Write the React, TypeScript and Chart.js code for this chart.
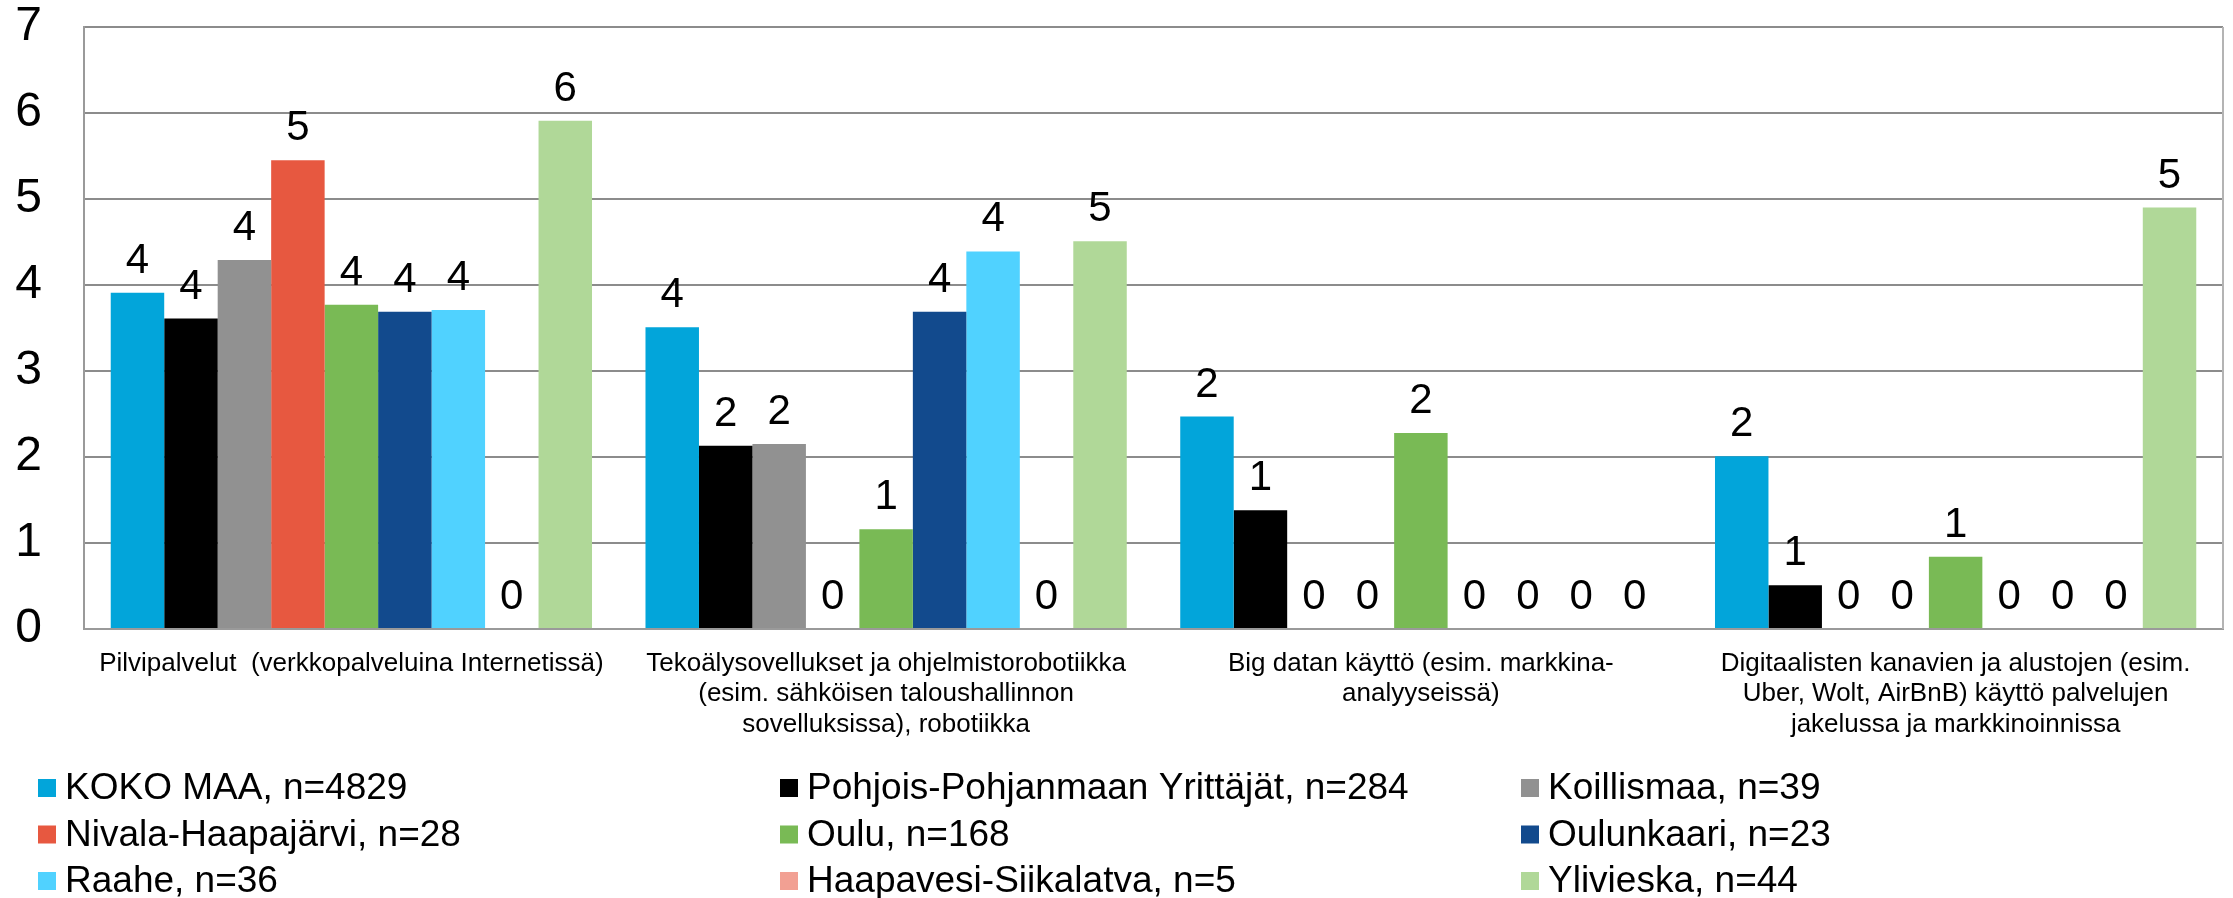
import React, { useEffect, useRef } from "react";
import { Chart, registerables } from "chart.js";

Chart.register(...registerables);

const categories: string[][] = [
  ["Pilvipalvelut  (verkkopalveluina Internetissä)"],
  ["Tekoälysovellukset ja ohjelmistorobotiikka", "(esim. sähköisen taloushallinnon", "sovelluksissa), robotiikka"],
  ["Big datan käyttö (esim. markkina-", "analyyseissä)"],
  ["Digitaalisten kanavien ja alustojen (esim.", "Uber, Wolt, AirBnB) käyttö palvelujen", "jakelussa ja markkinoinnissa"],
];

const seriesNames = [
  "KOKO MAA, n=4829",
  "Pohjois-Pohjanmaan Yrittäjät, n=284",
  "Koillismaa, n=39",
  "Nivala-Haapajärvi, n=28",
  "Oulu, n=168",
  "Oulunkaari, n=23",
  "Raahe, n=36",
  "Haapavesi-Siikalatva, n=5",
  "Ylivieska, n=44",
];

const kokoMaa = [3.91, 3.51, 2.47, 2.01];
const pohjoisPohjanmaa = [3.61, 2.13, 1.38, 0.51];
const koillismaa = [4.29, 2.15, 0, 0];
const nivalaHaapajarvi = [5.45, 0, 0, 0];
const oulu = [3.77, 1.16, 2.28, 0.84];
const oulunkaari = [3.69, 3.69, 0, 0];
const raahe = [3.71, 4.39, 0, 0];
const haapavesiSiikalatva = [0, 0, 0, 0];
const ylivieska = [5.91, 4.51, 0, 4.9];

const seriesValues = [
  kokoMaa,
  pohjoisPohjanmaa,
  koillismaa,
  nivalaHaapajarvi,
  oulu,
  oulunkaari,
  raahe,
  haapavesiSiikalatva,
  ylivieska,
];

const seriesColors = [
  "#02A5DA",
  "#000000",
  "#919191",
  "#E75840",
  "#79BA55",
  "#124A8D",
  "#50D2FF",
  "#F2A093",
  "#B0D898",
];

const yTicks = [0, 1, 2, 3, 4, 5, 6, 7];

const FONT = "'Liberation Sans', Arial, Helvetica, sans-serif";

const dataLabelPlugin = {
  id: "dataLabels",
  afterDatasetsDraw(chart: any) {
    const ctx = chart.ctx;
    ctx.save();
    ctx.font = `42px ${FONT}`;
    ctx.fillStyle = "#000";
    ctx.textAlign = "center";
    ctx.textBaseline = "alphabetic";
    chart.data.datasets.forEach((ds: any, i: number) => {
      const meta = chart.getDatasetMeta(i);
      meta.data.forEach((bar: any, j: number) => {
        const v = ds.data[j];
        ctx.fillText(String(Math.round(v)), bar.x, bar.y - 20);
      });
    });
    ctx.restore();
  },
};

const frameAndLegendPlugin = {
  id: "frameAndLegend",
  afterDraw(chart: any) {
    const ctx = chart.ctx;
    const a = chart.chartArea;
    ctx.save();
    ctx.strokeStyle = "#b4b4b4";
    ctx.lineWidth = 2;
    ctx.beginPath();
    ctx.moveTo(a.right, a.top);
    ctx.lineTo(a.right, a.bottom);
    ctx.stroke();

    const colX = [38, 780, 1521];
    const rowY = [788, 834.5, 881];
    ctx.font = `37px ${FONT}`;
    ctx.textAlign = "left";
    ctx.textBaseline = "middle";
    seriesNames.forEach((name, i) => {
      const x = colX[i % 3];
      const y = rowY[Math.floor(i / 3)];
      ctx.fillStyle = seriesColors[i];
      ctx.fillRect(x, y - 9, 18, 18);
      ctx.fillStyle = "#000";
      ctx.fillText(name, x + 27, y + 1);
    });
    ctx.restore();
  },
};

export default function App() {
  const canvasRef = useRef<HTMLCanvasElement | null>(null);

  useEffect(() => {
    document.body.style.margin = "0";
    const canvas = canvasRef.current;
    if (!canvas) return;
    const chart = new Chart(canvas, {
      type: "bar",
      data: {
        labels: categories as any,
        datasets: seriesNames.map((name, i) => ({
          label: name,
          data: seriesValues[i],
          backgroundColor: seriesColors[i],
          borderWidth: 0,
          barPercentage: 1.0,
          categoryPercentage: 0.9,
        })),
      },
      options: {
        animation: false,
        responsive: true,
        maintainAspectRatio: false,
        layout: { padding: { left: 0, right: 10, top: 27, bottom: 0 } },
        plugins: {
          legend: { display: false },
          tooltip: { enabled: false },
          title: { display: false },
        },
        scales: {
          x: {
            grid: { display: false, drawTicks: false },
            border: { display: true, color: "#9a9a9a", width: 2 },
            ticks: {
              color: "#000",
              font: { family: FONT, size: 26, lineHeight: 1.18 },
              padding: 19,
              maxRotation: 0,
              autoSkip: false,
            },
            afterFit: (scale: any) => {
              scale.height = 269;
              scale.paddingLeft = 0;
              scale.paddingRight = 0;
            },
          },
          y: {
            min: 0,
            max: 7,
            afterBuildTicks: (scale: any) => {
              scale.ticks = yTicks.map((v) => ({ value: v }));
            },
            grid: { color: "#8c8c8c", lineWidth: 2, drawTicks: false },
            border: { display: true, color: "#9a9a9a", width: 2 },
            ticks: {
              color: "#000",
              font: { family: FONT, size: 48, lineHeight: 1 },
              padding: 42,
            },
            afterFit: (scale: any) => {
              scale.width = 84;
              scale.paddingTop = 0;
              scale.paddingBottom = 0;
            },
          },
        },
      },
      plugins: [dataLabelPlugin, frameAndLegendPlugin],
    });
    return () => chart.destroy();
  }, []);

  return (
    <div style={{ position: "relative", width: "2233px", height: "898px", background: "#fff" }}>
      <canvas ref={canvasRef} />
    </div>
  );
}
